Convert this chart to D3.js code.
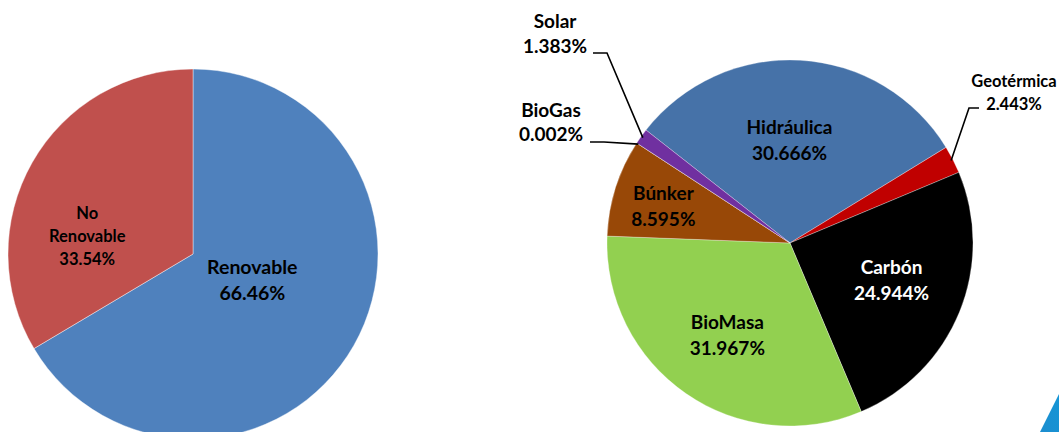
<!DOCTYPE html>
<html>
<head>
<meta charset="utf-8">
<script src="https://cdn.jsdelivr.net/npm/d3@7"></script>
<style>
  body { margin: 0; background: #fff; }
  svg { display: block; }
  text { font-family: Lato, "Open Sans", sans-serif; font-weight: bold; }
</style>
</head>
<body>
<div id="chart"></div>
<script>
// left pie: renewable share
var mixNames = ["Renovable", "No Renovable"];
var mixValues = [66.46, 33.54];
var mixLabels = [["Renovable", "66.46%"], ["No", "Renovable", "33.54%"]];
var mixColors = ["#4F81BD", "#C0504D"];

// right pie: by source
var srcNames = ["Hidráulica", "Geotérmica", "Carbón", "BioMasa", "Búnker", "BioGas", "Solar"];
var srcValues = [30.666, 2.443, 24.944, 31.967, 8.595, 0.002, 1.383];
var srcPct = ["30.666%", "2.443%", "24.944%", "31.967%", "8.595%", "0.002%", "1.383%"];
var srcColors = ["#4672A8", "#C00000", "#000000", "#92D050", "#984807", "#FFC000", "#7030A0"];

var width = 1059,
    height = 432;

var svg = d3.select("#chart")
  .append("svg")
    .attr("width", width)
    .attr("height", height);

var deg = Math.PI / 180;

drawMixPie();
drawSourcePie();
drawCorner();

function drawMixPie() {
  var cx = 193, cy = 254, r = 185;
  // label placement: radius fraction and angle nudge (deg) from slice middle
  var place = {
    "Renovable":    { rf: 0.35, shift: -6, size: 19.5, lh: 26 },
    "No Renovable": { rf: 0.58, shift: -20, size: 16.5, lh: 23 }
  };

  var pie = d3.pie().sort(null).value(function(d) { return d; });
  var arcs = pie(mixValues);
  var arc = d3.arc().innerRadius(0).outerRadius(r);

  var g = svg.append("g").attr("transform", "translate(" + cx + "," + cy + ")");

  g.selectAll("path")
    .data(arcs)
    .enter()
      .append("path")
      .attr("d", arc)
      .attr("fill", function(d, i) { return mixColors[i]; })
      .attr("stroke", "rgba(255,255,255,0.6)")
      .attr("stroke-width", 0.7);

  arcs.forEach(function(a, i) {
    var p = place[mixNames[i]];
    var ang = (a.startAngle + a.endAngle) / 2 + p.shift * deg;
    var x = Math.sin(ang) * r * p.rf,
        y = -Math.cos(ang) * r * p.rf;
    blockLabel(g, mixLabels[i], x, y, p.size, p.lh, "#000");
  });
}

function drawSourcePie() {
  var cx = 790, cy = 243, r = 183;
  var inside = {
    "Hidráulica": { rf: 0.56, shift: -3.6 },
    "Carbón":     { rf: 0.59, shift: -2.3 },
    "BioMasa":    { rf: 0.61, shift: -0.5 },
    "Búnker":     { rf: 0.72, shift: -1.6 }
  };
  // outside labels: elbow, line end and text anchor, relative to pie center
  var outside = {
    "Solar":      { elbow: [-183, -190], end: [-197, -190], tx: -235, ty: -190, size: 19, lh: 25 },
    "BioGas":     { elbow: [-186, -101], end: [-200, -101], tx: -239, ty: -102, size: 19, lh: 24 },
    "Geotérmica": { elbow: [179, -135], end: [189, -135], tx: 224, ty: -133, size: 16.5, lh: 23 }
  };

  var start = -51.9 * deg;
  var pie = d3.pie().sort(null)
    .startAngle(start)
    .endAngle(start + 2 * Math.PI)
    .value(function(d) { return d; });
  var arcs = pie(srcValues);
  var arc = d3.arc().innerRadius(0).outerRadius(r);

  var g = svg.append("g").attr("transform", "translate(" + cx + "," + cy + ")");

  g.selectAll("path")
    .data(arcs)
    .enter()
      .append("path")
      .attr("d", arc)
      .attr("fill", function(d, i) { return srcColors[i]; })
      .attr("stroke", "rgba(255,255,255,0.5)")
      .attr("stroke-width", 0.6);

  arcs.forEach(function(a, i) {
    var name = srcNames[i];
    var mid = (a.startAngle + a.endAngle) / 2;
    var lines = [name, srcPct[i]];
    if (inside[name]) {
      var p = inside[name];
      var ang = mid + p.shift * deg;
      var x = Math.sin(ang) * r * p.rf,
          y = -Math.cos(ang) * r * p.rf;
      blockLabel(g, lines, x, y, 19, 26, name === "Carbón" ? "#fff" : "#000");
    } else {
      var o = outside[name];
      var px = Math.sin(mid) * (r - 2),
          py = -Math.cos(mid) * (r - 2);
      g.append("polyline")
        .attr("points", [[px, py], o.elbow, o.end].map(function(q) { return q.join(","); }).join(" "))
        .attr("fill", "none")
        .attr("stroke", "#000")
        .attr("stroke-width", 1.6);
      var t = g.append("text")
        .attr("text-anchor", "middle")
        .attr("font-size", o.size + "px")
        .attr("fill", "#000");
      lines.forEach(function(s, k) {
        t.append("tspan")
          .attr("x", o.tx)
          .attr("y", o.ty - (lines.length - 1 - k) * o.lh)
          .text(s);
      });
    }
  });
}

// lines centred on (x, y), baseline offset from font size
function blockLabel(g, lines, x, y, size, lh, color) {
  var t = g.append("text")
    .attr("text-anchor", "middle")
    .attr("font-size", size + "px")
    .attr("fill", color);
  var top = y - (lines.length - 1) * lh / 2 + size * 0.36;
  lines.forEach(function(s, k) {
    t.append("tspan")
      .attr("x", x)
      .attr("y", top + k * lh)
      .text(s);
  });
}

// slide decoration peeking in at the bottom right
function drawCorner() {
  var grad = svg.append("defs").append("linearGradient")
    .attr("id", "corner")
    .attr("x1", "0").attr("y1", "1").attr("x2", "1").attr("y2", "0");
  grad.append("stop").attr("offset", "0").attr("stop-color", "#1C8DCF");
  grad.append("stop").attr("offset", "1").attr("stop-color", "#1596D6");
  svg.append("path")
    .attr("d", "M1040,432L1059,394L1059,432Z")
    .attr("fill", "url(#corner)");
}
</script>
</body>
</html>
